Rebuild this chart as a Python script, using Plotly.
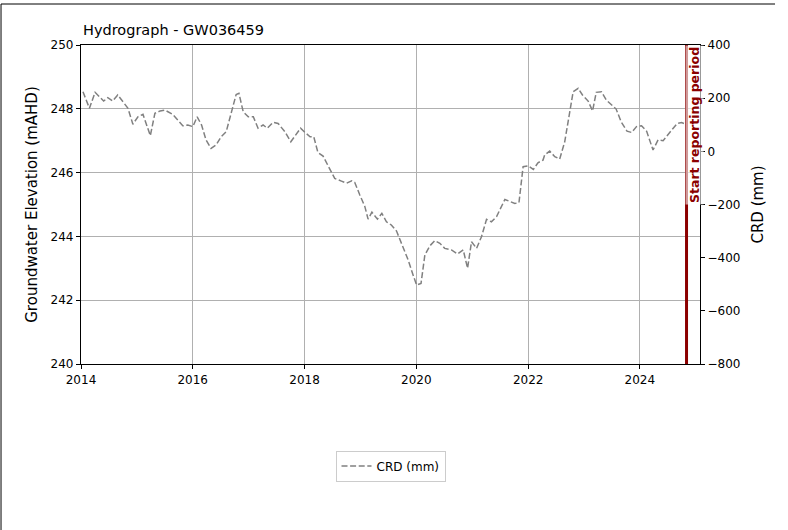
import plotly.graph_objects as go

dates = [
    "2014-01-14", "2014-02-25", "2014-04-03", "2014-05-08", "2014-05-29", "2014-06-25", "2014-07-27",
    "2014-08-29", "2014-09-27", "2014-11-04", "2014-12-06", "2015-01-08", "2015-02-10", "2015-03-30",
    "2015-04-29", "2015-06-02", "2015-07-04", "2015-08-23", "2015-09-25", "2015-10-28", "2015-11-30",
    "2016-01-02", "2016-01-30", "2016-02-28", "2016-03-28", "2016-04-30", "2016-06-02", "2016-07-05",
    "2016-08-07", "2016-09-09", "2016-10-11", "2016-10-29", "2016-11-26", "2016-12-29", "2017-01-31",
    "2017-03-03", "2017-04-05", "2017-05-03", "2017-06-09", "2017-07-12", "2017-08-25", "2017-10-03",
    "2017-10-29", "2017-12-06", "2018-01-04", "2018-02-06", "2018-03-02", "2018-03-29", "2018-05-02",
    "2018-06-04", "2018-07-17", "2018-08-30", "2018-10-02", "2018-11-05", "2018-11-25", "2018-12-28",
    "2019-01-30", "2019-02-20", "2019-03-17", "2019-04-22", "2019-05-21", "2019-06-20", "2019-07-22",
    "2019-08-25", "2019-09-26", "2019-11-09", "2019-12-11", "2020-01-03", "2020-02-01", "2020-02-26",
    "2020-03-29", "2020-05-01", "2020-06-03", "2020-07-05", "2020-08-18", "2020-09-27", "2020-11-03",
    "2020-12-01", "2020-12-27", "2021-01-29", "2021-03-02", "2021-04-04", "2021-05-06", "2021-06-08",
    "2021-08-02", "2021-09-04", "2021-10-06", "2021-11-02", "2021-11-29", "2022-01-02", "2022-02-04",
    "2022-03-06", "2022-04-08", "2022-04-19", "2022-05-22", "2022-06-24", "2022-07-26", "2022-08-28",
    "2022-09-26", "2022-10-22", "2022-11-24", "2022-12-22", "2023-01-28", "2023-02-26", "2023-03-22",
    "2023-04-25", "2023-05-27", "2023-06-27", "2023-07-30", "2023-09-01", "2023-10-09", "2023-11-08",
    "2023-12-10", "2024-01-12", "2024-02-14", "2024-03-27", "2024-04-29", "2024-06-01", "2024-07-03",
    "2024-08-06", "2024-09-01", "2024-09-30", "2024-10-26",
]

crd_mm = [
    224, 162, 222, 199, 189, 202, 189,
    212, 189, 162, 102, 130, 139, 59,
    143, 152, 155, 139, 118, 96, 99,
    93, 130, 99, 43, 11, 24, 55,
    74, 149, 214, 218, 149, 130, 130,
    87, 99, 87, 109, 105, 74, 36,
    55, 87, 71, 55, 55, -4, -18,
    -52, -102, -112, -120, -111, -117, -164,
    -208, -255, -229, -255, -233, -265, -277,
    -300, -346, -409, -465, -503, -497, -390,
    -356, -336, -346, -365, -371, -386, -371,
    -440, -340, -365, -321, -256, -265, -246,
    -181, -190, -196, -193, -58, -55, -68,
    -43, -33, -14, 1, -20, -29, 36,
    137, 224, 237, 212, 189, 152, 222,
    224, 193, 177, 159, 111, 76, 71,
    93, 96, 76, 5, 43, 40, 61,
    87, 105, 108, 102,
]

title_text = "Hydrograph - GW036459"
left_label = "Groundwater Elevation (mAHD)"
right_label = "CRD (mm)"
series_name = "CRD (mm)"
report_date = "2024-11-01"
report_label = "Start reporting period"
x_range = ["2014-01-01", "2025-01-28"]
x_ticks = ["2014-01-01", "2016-01-01", "2018-01-01", "2020-01-01", "2022-01-01", "2024-01-01"]
x_tick_labels = ["2014", "2016", "2018", "2020", "2022", "2024"]
left_range = [240, 250]
right_range = [-800, 400]

FONT = "DejaVu Sans"

fig = go.Figure()

# placeholder on the left axis so it is drawn
fig.add_trace(go.Scatter(x=[], y=[], yaxis="y", showlegend=False, hoverinfo="skip"))

fig.add_trace(go.Scatter(
    x=dates, y=crd_mm, yaxis="y2", mode="lines", name=series_name,
    line=dict(color="#808080", width=1.5, dash="6px,2.6px"),
))

fig.update_layout(
    width=788, height=530,
    margin=dict(l=81, r=88, t=45, b=166, pad=0),
    paper_bgcolor="white", plot_bgcolor="white",
    font=dict(family=FONT, size=12, color="black"),
    showlegend=True,
    legend=dict(
        x=0.5, xanchor="center", y=-0.32, yanchor="middle",
        bordercolor="#cccccc", borderwidth=1, bgcolor="white",
        font=dict(size=12, family=FONT), itemwidth=30,
    ),
    annotations=[
        dict(
            text=title_text, xref="paper", yref="paper", x=0, y=1, xanchor="left", yanchor="bottom",
            yshift=5, showarrow=False, font=dict(size=14.5, family=FONT, color="black"),
        ),
        dict(
            text="<b>" + report_label + "</b>", xref="x", yref="paper", x=report_date, y=1,
            xanchor="left", yanchor="top", xshift=-2, textangle=-90, showarrow=False,
            font=dict(size=12.5, family=FONT, color="#8B0000"),
            bgcolor="rgba(255,255,255,0.6)", borderpad=1,
        ),
    ],
    shapes=[
        dict(type="line", xref="x", yref="paper", x0=report_date, x1=report_date, y0=0, y1=1,
             line=dict(color="#8B0000", width=3), layer="above"),
        dict(type="line", xref="paper", yref="paper", x0=-0.1292, x1=1.1212, y0=1.1285, y1=1.1285,
             line=dict(color="black", width=1)),
        dict(type="line", xref="paper", yref="paper", x0=-0.1292, x1=-0.1292, y0=1.1285, y1=-0.6,
             line=dict(color="black", width=1)),
    ],
    xaxis=dict(
        type="date", range=x_range, tickvals=x_ticks, ticktext=x_tick_labels,
        showgrid=True, gridcolor="#b0b0b0", gridwidth=1.2,
        showline=True, linecolor="black", linewidth=1.3, mirror=True,
        ticks="outside", ticklen=4, tickcolor="black", tickwidth=1,
        tickfont=dict(size=12, family=FONT), zeroline=False,
    ),
    yaxis=dict(
        range=left_range, dtick=2, tick0=240,
        title=dict(text=left_label, font=dict(size=15, family=FONT), standoff=9),
        showgrid=True, gridcolor="#b0b0b0", gridwidth=1.2,
        showline=True, linecolor="black", linewidth=1.3, mirror=True,
        ticks="outside", ticklen=4, tickcolor="black", tickwidth=1,
        tickfont=dict(size=12, family=FONT), zeroline=False,
    ),
    yaxis2=dict(
        range=right_range, dtick=200, tick0=-800, overlaying="y", side="right",
        title=dict(text=right_label, font=dict(size=15, family=FONT), standoff=12),
        showgrid=False, showline=True, linecolor="black", linewidth=1.3,
        ticks="outside", ticklen=4, tickcolor="black", tickwidth=1,
        tickfont=dict(size=12, family=FONT), zeroline=False,
        tickformat="d",
    ),
)

fig.write_html(
    "out.html",
    config={"displayModeBar": False},
    post_script="document.body.style.margin='0';document.body.style.overflow='hidden';",
)
